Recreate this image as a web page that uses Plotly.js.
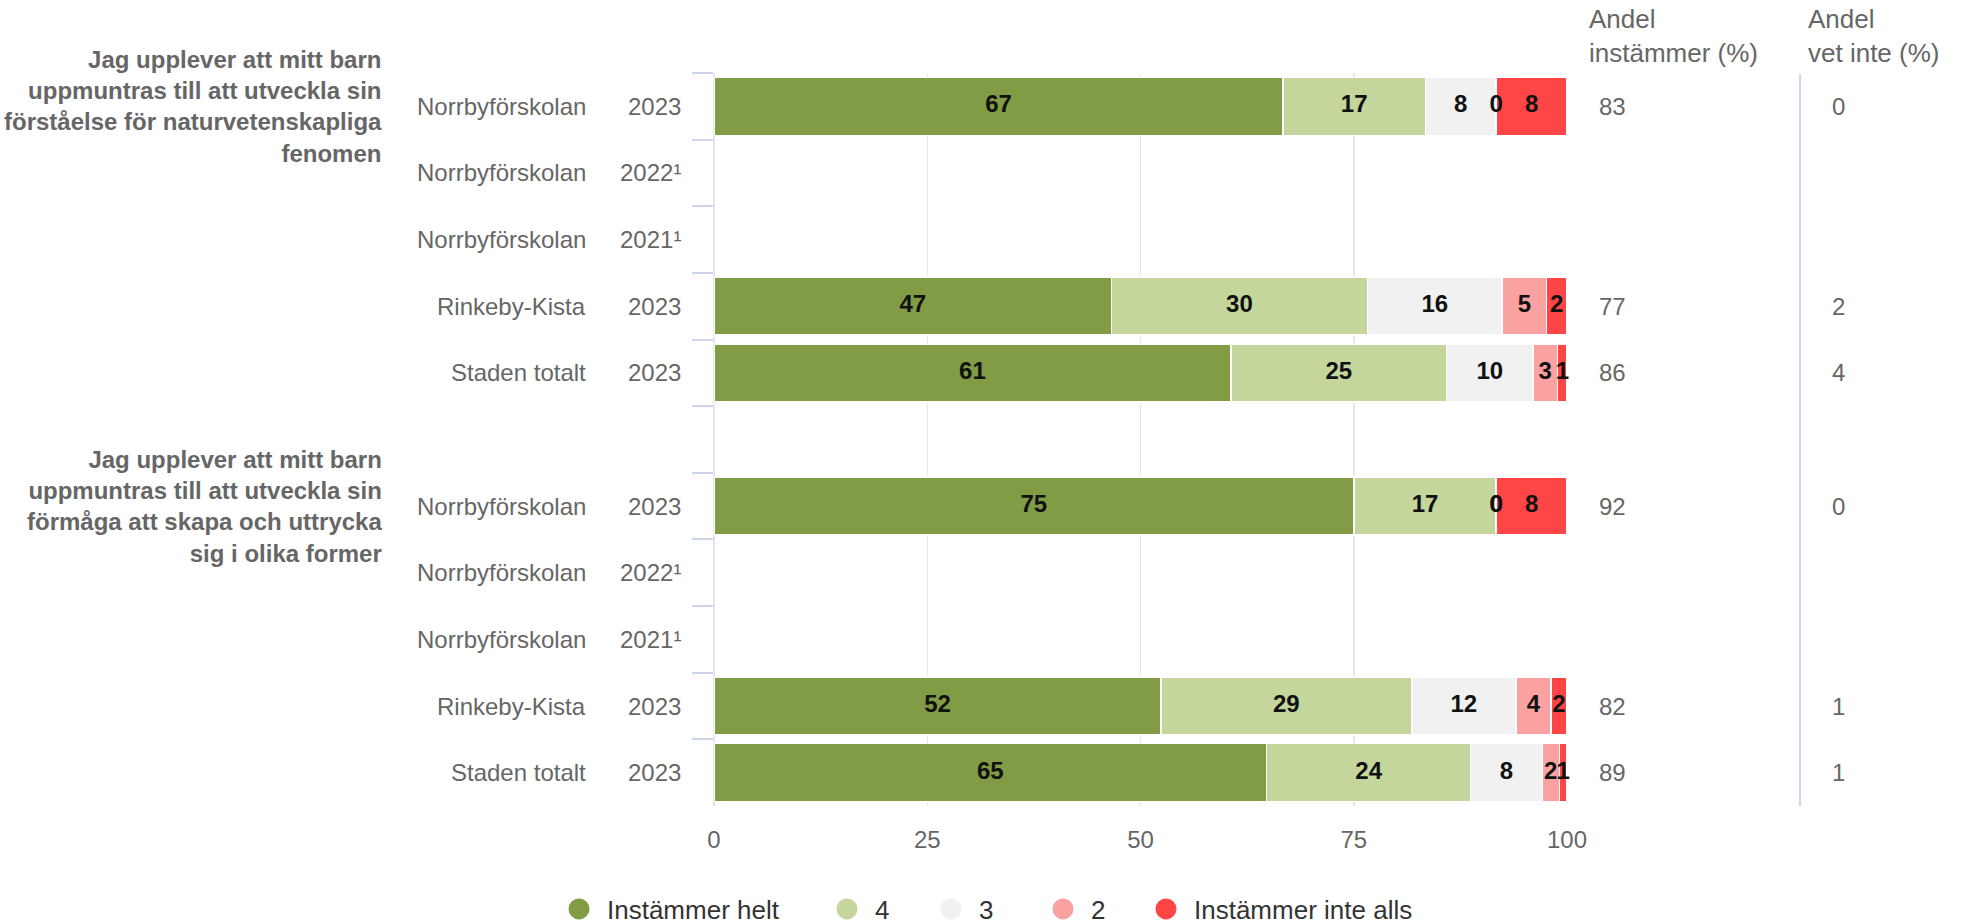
<!DOCTYPE html>
<html>
<head>
<meta charset="utf-8">
<script src="https://cdn.plot.ly/plotly-3.0.1.min.js"></script>
<style>
  html, body { margin: 0; padding: 0; background: #ffffff; }
  #chart { width: 1964px; height: 924px; }
</style>
</head>
<body>
<div id="chart"></div>
<script>
// ---- Data ----
const questions = [
  "Jag upplever att mitt barn<br>uppmuntras till att utveckla sin<br>förståelse för naturvetenskapliga<br>fenomen",
  "Jag upplever att mitt barn<br>uppmuntras till att utveckla sin<br>förmåga att skapa och uttrycka<br>sig i olika former"
];
const units = ["Norrbyförskolan", "Norrbyförskolan", "Norrbyförskolan", "Rinkeby-Kista", "Staden totalt"];
const years = ["2023", "2022¹", "2021¹", "2023", "2023"];

const seriesNames = ["Instämmer helt", "4", "3", "2", "Instämmer inte alls"];
const seriesColors = ["#819c44", "#c4d69b", "#f1f1f1", "#f9a2a1", "#ff4545"];

// rows: question 1 (5 rows), then question 2 (5 rows)
const instammerHelt = [66.7, null, null, 46.6, 60.6, 75.0, null, null, 52.4, 64.8];
const betyg4        = [16.7, null, null, 30.0, 25.3, 16.7, null, null, 29.4, 23.9];
const betyg3        = [ 8.3, null, null, 15.8, 10.1,  0.0, null, null, 12.2,  8.4];
const betyg2        = [ 0.0, null, null,  5.2,  2.9,  0.0, null, null,  4.1,  2.0];
const inteAlls      = [ 8.3, null, null,  2.4,  1.1,  8.3, null, null,  1.9,  0.9];

const andelInstammer = [83, null, null, 77, 86, 92, null, null, 82, 89];
const andelVetInte   = [ 0, null, null,  2,  4,  0, null, null,  1,  1];

const colHeaders = ["Andel<br>instämmer (%)", "Andel<br>vet inte (%)"];
const xTicks = [0, 25, 50, 75, 100];

// ---- Build categories ----
const rowIds = [];
questions.forEach((q, g) => units.forEach((u, r) => rowIds.push("q" + g + "r" + r)));
const categoryOrder = rowIds.slice(0, 5).concat(["gap"], rowIds.slice(5));

const FONT = "Liberation Sans, Arial, Helvetica, sans-serif";
const allSeries = [instammerHelt, betyg4, betyg3, betyg2, inteAlls];

const traces = [];
allSeries.forEach((vals, k) => {
  traces.push({
    type: "bar", orientation: "h",
    x: vals, y: rowIds,
    name: seriesNames[k],
    marker: { color: seriesColors[k], line: { color: "#ffffff", width: 1.5 } },
    showlegend: false, hoverinfo: "skip"
  });
});

// data labels at segment centres
const starts = rowIds.map(() => 0);
allSeries.forEach((vals, k) => {
  const xs = [], ts = [];
  vals.forEach((v, i) => {
    if (v === null) { xs.push(null); ts.push(""); return; }
    xs.push(starts[i] + v / 2);
    ts.push(String(Math.round(v)));
    starts[i] += v;
  });
  traces.push({
    type: "scatter", mode: "text", x: xs, y: rowIds, text: ts,
    textposition: "middle center",
    textfont: { family: FONT, size: 24, color: "#111111", weight: "bold" },
    cliponaxis: false, showlegend: false, hoverinfo: "skip"
  });
});

// legend entries with round symbols, one legend box per entry
const legendIds = ["legend", "legend2", "legend3", "legend4", "legend5"];
seriesNames.forEach((n, k) => {
  traces.push({
    type: "scatter", mode: "markers", x: [null], y: [null],
    name: n, legend: legendIds[k],
    marker: { color: seriesColors[k], size: 16, symbol: "circle",
              line: { color: seriesColors[k], width: 5 } },
    hoverinfo: "skip"
  });
});

// ---- Annotations ----
const annotations = [];
questions.forEach((q, g) => {
  annotations.push({
    xref: "paper", yref: "y", x: -0.3869, y: "q" + g + "r0",
    xanchor: "right", yanchor: "middle", align: "right",
    text: "<b>" + q + "</b>", showarrow: false,
    font: { family: FONT, size: 24, color: "#666666" }
  });
  units.forEach((u, r) => {
    const id = "q" + g + "r" + r;
    annotations.push({
      xref: "paper", yref: "y", x: -0.1477, y: id, xanchor: "right", yanchor: "middle",
      text: u, showarrow: false, font: { family: FONT, size: 24, color: "#666666" }
    });
    annotations.push({
      xref: "paper", yref: "y", x: -0.0369, y: id, xanchor: "right", yanchor: "middle",
      text: years[r], showarrow: false, font: { family: FONT, size: 24, color: "#666666" }
    });
    const idx = g * 5 + r;
    if (andelInstammer[idx] !== null) {
      annotations.push({
        xref: "paper", yref: "y", x: 1.0352, y: id, xanchor: "left", yanchor: "middle",
        text: String(andelInstammer[idx]), showarrow: false,
        font: { family: FONT, size: 24, color: "#666666" }
      });
    }
    if (andelVetInte[idx] !== null) {
      annotations.push({
        xref: "paper", yref: "y", x: 1.3083, y: id, xanchor: "left", yanchor: "middle",
        text: String(andelVetInte[idx]), showarrow: false,
        font: { family: FONT, size: 24, color: "#666666" }
      });
    }
  });
});
[1.0234, 1.2802].forEach((xp, i) => {
  annotations.push({
    xref: "paper", yref: "paper", x: xp, y: 1.05,
    xanchor: "left", yanchor: "middle", align: "left",
    text: colHeaders[i], showarrow: false,
    font: { family: FONT, size: 26, color: "#666666" }
  });
});

const layout = {
  width: 1964, height: 924,
  margin: { l: 714, r: 397, t: 73, b: 118, pad: 0 },
  paper_bgcolor: "#ffffff", plot_bgcolor: "#ffffff",
  barmode: "stack", bargap: 0.13,
  font: { family: FONT, size: 24, color: "#666666" },
  xaxis: {
    range: [0, 100], tickvals: xTicks, ticktext: xTicks.map(String),
    showgrid: true, gridcolor: "#e6e6e6", gridwidth: 1.5,
    zeroline: true, zerolinecolor: "#e6e6e6", zerolinewidth: 1.5,
    showline: false, ticks: "", ticklabelstandoff: 17,
    tickfont: { family: FONT, size: 24, color: "#666666" },
    fixedrange: true
  },
  yaxis: {
    type: "category", categoryorder: "array", categoryarray: categoryOrder,
    range: [categoryOrder.length - 0.5, -0.5],
    showticklabels: false, showgrid: false, zeroline: false, showline: false,
    ticks: "outside", tickson: "boundaries", ticklen: 21, tickwidth: 2, tickcolor: "#ccd6eb",
    fixedrange: true
  },
  shapes: [{
    type: "line", xref: "paper", yref: "paper", x0: 1.2732, x1: 1.2732, y0: 0, y1: 0.998,
    line: { color: "#ccd6eb", width: 2 }
  }],
  annotations: annotations,
  hovermode: false,
  showlegend: true
};

// legend boxes placed side by side below the plot
const legendLeft = [551, 819, 923, 1035, 1138];
legendIds.forEach((id, k) => {
  layout[id] = {
    orientation: "h", xref: "container", yref: "container",
    x: legendLeft[k] / 1964, xanchor: "left", y: 0.0162, yanchor: "middle",
    font: { family: FONT, size: 26, color: "#333333" },
    itemwidth: 46, bgcolor: "rgba(0,0,0,0)"
  };
});

Plotly.newPlot("chart", traces, layout, { displayModeBar: false, staticPlot: true });
</script>
</body>
</html>
